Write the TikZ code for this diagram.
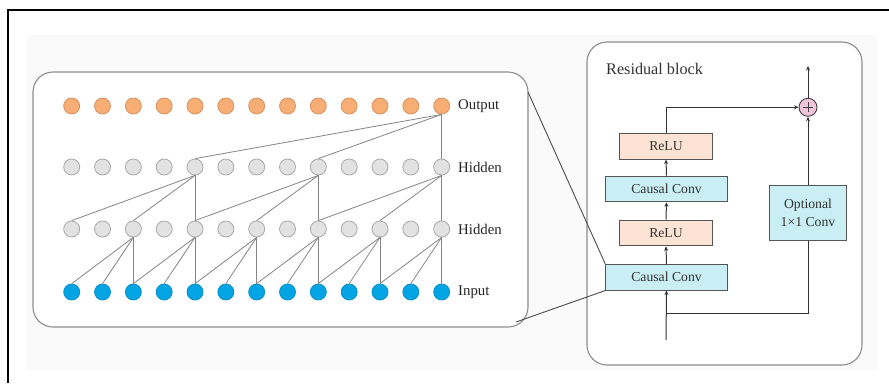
\documentclass[tikz,border=0pt]{standalone}
\usepackage{fontspec}
\setmainfont{Liberation Serif}
\usetikzlibrary{arrows.meta}

\definecolor{outfill}{HTML}{F6AE74}
\definecolor{outdraw}{HTML}{D99060}
\definecolor{hidfill}{HTML}{E2E2E2}
\definecolor{hiddraw}{HTML}{A8A8A8}
\definecolor{infill}{HTML}{03A4E3}
\definecolor{indraw}{HTML}{0890CC}
\definecolor{edgegray}{HTML}{858585}
\definecolor{panelgray}{HTML}{8C8C8C}
\definecolor{convfill}{HTML}{C9EEF4}
\definecolor{relufill}{HTML}{FCE3D3}
\definecolor{boxdraw}{HTML}{555555}
\definecolor{plusfill}{HTML}{F3C5DB}
\definecolor{bgfill}{HTML}{FAFAFA}

\tikzset{
  unit/.style={circle, minimum size=16pt, inner sep=0pt, line width=0.8pt},
  outunit/.style={unit, fill=outfill, draw=outdraw},
  hidunit/.style={unit, fill=hidfill, draw=hiddraw},
  inunit/.style={unit, fill=infill, draw=indraw},
  rowlabel/.style={anchor=west, inner sep=0pt, font=\fontsize{14.8}{16}\selectfont, text=black!85},
  tcnedge/.style={draw=edgegray, line width=0.8pt},
  panel/.style={draw=panelgray, fill=white, line width=1.1pt, rounded corners=20pt},
  blockbox/.style={draw=boxdraw, line width=1pt, minimum height=25.7pt, inner sep=0pt,
                   font=\fontsize{13.7}{15}\selectfont, text=black!80},
  convbox/.style={blockbox, fill=convfill, minimum width=121.6pt},
  relubox/.style={blockbox, fill=relufill, minimum width=93.4pt},
  flow/.style={draw=black!80, line width=1pt},
  flowarrow/.style={flow, -{Stealth[length=4.5pt, width=4pt]}},
  zoomline/.style={draw=black!70, line width=0.9pt}
}

\begin{document}
\begin{tikzpicture}[x=1pt, y=-1pt]
  \useasboundingbox (0,0) rectangle (889,383);

  % page tint and frame
  \fill[bgfill] (27,35) rectangle (877,370);
  \draw[black, line width=2pt] (8,383) -- (8,10) -- (889,10);

  % ---------- dilated causal convolution stack ----------
  \draw[panel] (33,72) rectangle (528,327);

  \foreach \k in {0,...,12} {
    \pgfmathsetmacro{\xx}{71.7 + 30.83*\k}
    \node[outunit] (o\k) at (\xx,106) {};
    \node[hidunit] (a\k) at (\xx,167) {};
    \node[hidunit] (b\k) at (\xx,229) {};
    \node[inunit]  (i\k) at (\xx,292) {};
  }

  \node[rowlabel] (lo) at (458,106) {Output};
  \node[rowlabel] (lh2) at (458,167) {Hidden};
  \node[rowlabel] (lh1) at (458,229) {Hidden};
  \node[rowlabel] (li) at (458,292) {Input};

  % dilation 1: first hidden layer from the input
  \foreach \k in {2,4,6,8,10,12} {
    \pgfmathtruncatemacro{\p}{\k-1}
    \pgfmathtruncatemacro{\q}{\k-2}
    \draw[tcnedge] (b\k.south) -- (i\k.north);
    \draw[tcnedge] (b\k.south) -- (i\p.north);
    \draw[tcnedge] (b\k.south) -- (i\q.north);
  }
  % dilation 2: second hidden layer
  \foreach \k in {4,8,12} {
    \pgfmathtruncatemacro{\p}{\k-2}
    \pgfmathtruncatemacro{\q}{\k-4}
    \draw[tcnedge] (a\k.south) -- (b\k.north);
    \draw[tcnedge] (a\k.south) -- (b\p.north);
    \draw[tcnedge] (a\k.south) -- (b\q.north);
  }
  % dilation 4: output
  \draw[tcnedge] (o12.south) -- (a12.north);
  \draw[tcnedge] (o12.south) -- (a8.north);
  \draw[tcnedge] (o12.south) -- (a4.north);

  % ---------- residual block ----------
  \draw[panel] (587,42) rectangle (862,365);
  \node[anchor=west, inner sep=0pt, font=\fontsize{16.2}{18}\selectfont, text=black!80]
    (title) at (606,69) {Residual block};

  \node[relubox] (relu2) at (666,146.2) {ReLU};
  \node[convbox] (conv2) at (666.5,188.9) {Causal Conv};
  \node[relubox] (relu1) at (666,233) {ReLU};
  \node[convbox] (conv1) at (666.5,277.2) {Causal Conv};
  \node[blockbox, fill=convfill, minimum width=77.7pt, minimum height=55pt, align=center,
        font=\fontsize{13.7}{18}\selectfont] (opt) at (808,212.5) {Optional\\1×1 Conv};
  \node[circle, draw=black!75, fill=plusfill, line width=0.9pt, minimum size=18pt, inner sep=0pt,
        path picture={\draw[black!75, line width=0.8pt]
          ([xshift=-5pt]path picture bounding box.center) -- ([xshift=5pt]path picture bounding box.center)
          ([yshift=-5pt]path picture bounding box.center) -- ([yshift=5pt]path picture bounding box.center);}]
        (plus) at (808,107.3) {};

  \coordinate (xin) at (666,340);
  \coordinate (split) at (666,313);
  \coordinate (skipturn) at (808,313);
  \coordinate (mainturn) at (666,107.3);
  \coordinate (yout) at (808,66);

  \draw[flowarrow] (xin) -- (conv1.south);
  \draw[flowarrow] (conv1.north) -- (relu1.south);
  \draw[flowarrow] (relu1.north) -- (conv2.south);
  \draw[flowarrow] (conv2.north) -- (relu2.south);
  \draw[flowarrow] (relu2.north) -- (mainturn) -- (plus.west);
  \draw[flow] (split) -- (skipturn) -- (opt.south);
  \draw[flowarrow] (opt.north) -- (plus.south);
  \draw[flowarrow] (plus.north) -- (yout);

  % zoom lines from the stack to the first convolution
  \coordinate (zt) at (528,92);
  \coordinate (zb) at (516,322);
  \draw[zoomline] (zt) -- (conv1.north west);
  \draw[zoomline] (zb) -- (conv1.south west);
\end{tikzpicture}
\end{document}
